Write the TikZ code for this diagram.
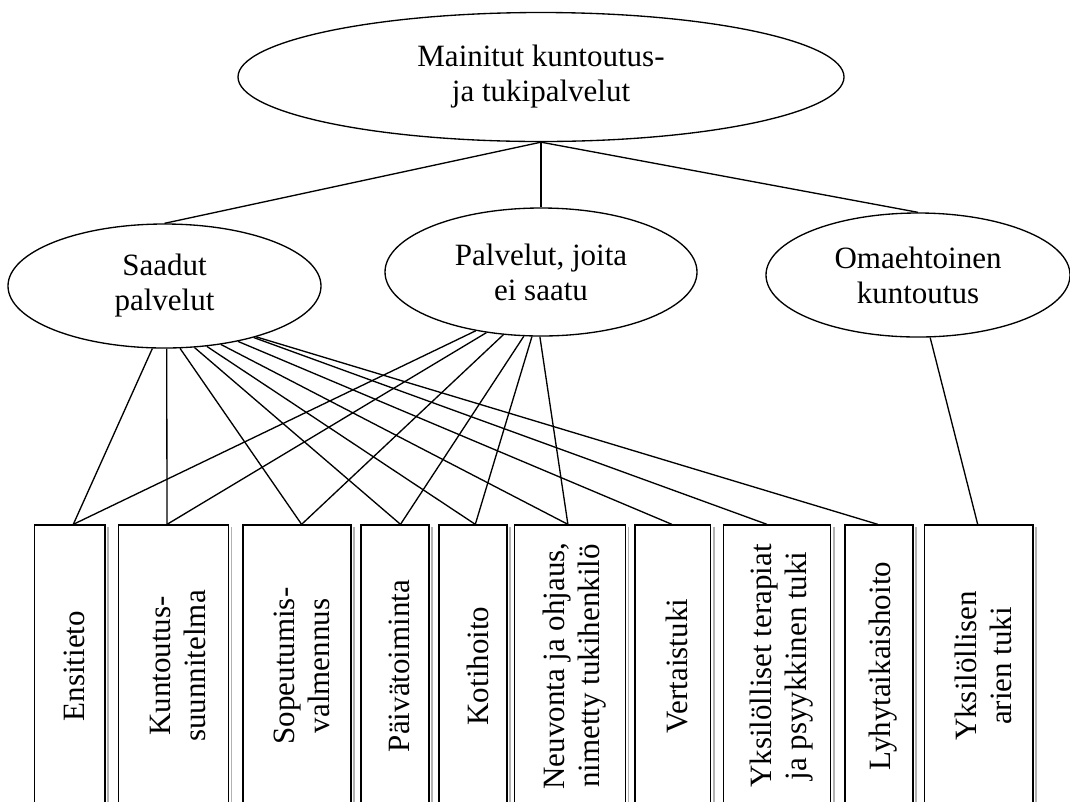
\documentclass[tikz,border=0pt]{standalone}
\usepackage{fontspec}
\setmainfont{Liberation Serif}
\usetikzlibrary{shapes.geometric,calc}
\begin{document}
\begin{tikzpicture}[x=0.75pt,y=-0.75pt,
  every node/.style={font=\fontsize{23.25pt}{26.25pt}\selectfont},
  oval/.style={draw,ellipse,line width=1pt,inner sep=0pt,align=center},
  box/.style={draw,rectangle,line width=1pt,inner sep=0pt,minimum height=211.5pt},
  vtext/.style={rotate=90,align=center,inner sep=0pt},
  conn/.style={line width=1pt},
  boxshade/.style={draw=black!30,line width=1.2pt}
]
\useasboundingbox (0,0) rectangle (1070,801);
\clip (0,0) rectangle (1070,801);

% ellipses
\node[oval,minimum width=454.5pt,minimum height=96.75pt] (top) at (541,77) {Mainitut kuntoutus-\\ja tukipalvelut};
\node[oval,minimum width=234.75pt,minimum height=93pt] (s) at (164.5,286) {Saadut\\palvelut};
\node[oval,minimum width=234pt,minimum height=96pt] (p) at (541,272) {Palvelut, joita\\ei saatu};
\node[oval,minimum width=228pt,minimum height=93pt] (o) at (918,275) {Omaehtoinen\\kuntoutus};

\draw[conn] (top.south) -- (s.north);
\draw[conn] (top.south) -- (p.north);
\draw[conn] (top.south) -- (o.north);

% boxes
\node[box,minimum width=52.65pt] (b1) at (69.9,666) {};
\node[box,minimum width=82.1pt] (b2) at (173.55,666) {};
\node[box,minimum width=80.85pt] (b3) at (297,666) {};
\node[box,minimum width=51.1pt] (b4) at (395,666) {};
\node[box,minimum width=50.9pt] (b5) at (473,666) {};
\node[box,minimum width=82.95pt] (b6) at (570.1,666) {};
\node[box,minimum width=56.85pt] (b7) at (672.9,666) {};
\node[box,minimum width=80.55pt] (b8) at (776.9,666) {};
\node[box,minimum width=51pt] (b9) at (879,666) {};
\node[box,minimum width=81.3pt] (b10) at (978.8,666) {};

\foreach \b in {b1,b2,b3,b4,b5,b6,b7,b8,b9,b10}
  \draw[boxshade] ($(\b.north east)+(2.5,3)$) -- ($(\b.south east)+(2.5,0)$);

\node[vtext] (t1) at ($(b1.center)+(4.5,0)$) {Ensitieto};
\node[vtext] (t2) at ($(b2.center)+(4.5,0)$) {Kuntoutus-\\suunnitelma};
\node[vtext] (t3) at ($(b3.center)+(4.5,0)$) {Sopeutumis-\\valmennus};
\node[vtext] (t4) at ($(b4.center)+(4.5,0)$) {Päivätoiminta};
\node[vtext] (t5) at ($(b5.center)+(4.5,0)$) {Kotihoito};
\node[vtext] (t6) at ($(b6.center)+(4.5,0)$) {Neuvonta ja ohjaus,\\nimetty tukihenkilö};
\node[vtext] (t7) at ($(b7.center)+(4.5,0)$) {Vertaistuki};
\node[vtext] (t8) at ($(b8.center)+(4.5,0)$) {Yksilölliset terapiat\\ja psyykkinen tuki};
\node[vtext] (t9) at ($(b9.center)+(4.5,0)$) {Lyhytaikaishoito};
\node[vtext] (t10) at ($(b10.center)+(4.5,0)$) {Yksilöllisen\\arien tuki};

% connector end points on box tops
\coordinate (e1) at ($(b1.north)+(3.4,0)$);
\coordinate (e2) at ($(b2.north)+(-6.5,0)$);
\coordinate (e3) at ($(b3.north)+(4.6,0)$);
\coordinate (e4) at ($(b4.north)+(5.5,0)$);
\coordinate (e5) at ($(b5.north)+(2.3,0)$);
\coordinate (e6) at ($(b6.north)+(-2.2,0)$);
\coordinate (e7) at ($(b7.north)+(-1,0)$);
\coordinate (e8) at ($(b8.north)+(-9.9,0)$);
\coordinate (e9) at ($(b9.north)+(-1.2,0)$);
\coordinate (e10) at ($(b10.north)+(-1.1,0)$);

% Saadut palvelut
\draw[conn] (s.-101.7) -- (e1);
\draw[conn] (s.-88) -- (e2);
\draw[conn] (s.-76.5) -- (e3);
\draw[conn] (s.-64.7) -- (e4);
\draw[conn] (s.-55.9) -- (e5);
\draw[conn] (s.-46.3) -- (e6);
\draw[conn] (s.-37.3) -- (e7);
\draw[conn] (s.-30.6) -- (e8);
\draw[conn] (s.-29.2) -- (e9);
% Palvelut, joita ei saatu
\draw[conn] (p.-138.2) -- (e1);
\draw[conn] (p.-132.6) -- (e2);
\draw[conn] (p.-121.5) -- (e3);
\draw[conn] (p.-105) -- (e4);
\draw[conn] (p.-98.9) -- (e5);
\draw[conn] (p.-91) -- (e6);
% Omaehtoinen kuntoutus
\draw[conn] (o.-79.9) -- (e10);
\end{tikzpicture}
\end{document}
